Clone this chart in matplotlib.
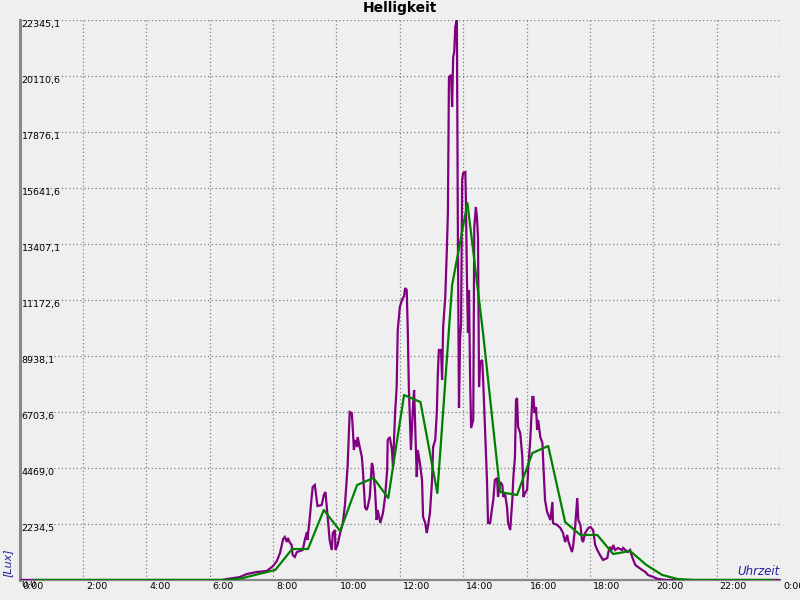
import matplotlib
matplotlib.use("Agg")
import matplotlib.pyplot as plt
import matplotlib.transforms as mtransforms

# Purple series: time in minutes since midnight, brightness in lux
purple_min = [0, 383, 393, 417, 430, 449, 468, 480, 487, 493, 499, 502, 506, 508, 511, 515, 517, 521, 525,
              531, 536, 540, 544, 545, 549, 553, 555, 559, 563, 564, 572, 576, 579, 583, 587, 591, 593, 597,
              598, 602, 606, 612, 616, 621, 625, 629, 631, 633, 635, 639, 640, 644, 648, 650, 654, 657, 659,
              663, 667, 669, 673, 676, 678, 683, 686, 688, 692, 696, 697, 701, 705, 707, 711, 714, 716, 720,
              724, 728, 730, 733, 735, 737, 741, 745, 747, 751, 752, 754, 758, 762, 764, 768, 771, 773, 777,
              781, 783, 787, 790, 792, 794, 798, 800, 802, 806, 809, 811, 813, 817, 819, 821, 823, 825, 828,
              830, 832, 834, 836, 838, 840, 844, 845, 847, 849, 851, 853, 855, 859, 861, 864, 866, 868, 870,
              872, 876, 878, 882, 885, 887, 891, 895, 897, 900, 904, 906, 910, 914, 916, 919, 923, 925, 929,
              933, 935, 938, 940, 942, 944, 948, 952, 954, 957, 961, 963, 967, 971, 973, 975, 978, 980, 982,
              986, 990, 992, 995, 999, 1005, 1009, 1010, 1018, 1024, 1029, 1033, 1037, 1039, 1046, 1048, 1052,
              1056, 1058, 1062, 1065, 1067, 1071, 1077, 1081, 1086, 1090, 1094, 1099, 1105, 1113, 1115, 1118,
              1122, 1124, 1128, 1133, 1141, 1143, 1147, 1152, 1156, 1160, 1166, 1171, 1179, 1185, 1190, 1200,
              1209, 1223, 1440]
purple_lux = [0, 0, 40, 120, 239, 319, 359, 559, 758, 1077, 1636, 1716, 1516, 1676, 1516, 1397, 998, 918, 1117,
              1157, 1197, 1596, 1915, 1596, 2394, 3312, 3711, 3791, 3112, 2953, 2993, 3392, 3511, 2594, 1596, 1197, 1875, 1995,
              1197, 1397, 1796, 2274, 2993, 4509, 6703, 6663, 5985, 5187, 5586, 5307, 5706, 5307, 4908, 4389, 2913, 2793, 2913,
              3312, 4668, 4509, 3591, 2394, 2793, 2274, 2514, 2673, 3312, 4389, 5586, 5706, 5187, 4509, 6663, 7701, 9975, 10893,
              11172, 11332, 11651, 11571, 9975, 7701, 5187, 6983, 7581, 4908, 4110, 5187, 4668, 3990, 2514, 2274, 1875, 2115, 2673,
              3990, 5307, 5586, 6663, 8259, 9177, 9177, 7980, 10095, 11292, 13167, 14643, 20070, 20150, 18873, 20868, 21067, 22065, 22344,
              13446, 6863, 9576, 10254, 15960, 16239, 16279, 15282, 12090, 9855, 11571, 8100, 6065, 6384, 14085, 14883, 14484, 13686, 7701,
              8698, 8778, 7860, 5586, 3990, 2274, 2274, 2913, 3192, 3990, 4070, 3312, 3910, 3791, 3312, 3471, 2913, 2274, 1995,
              3192, 4110, 4908, 7182, 7262, 6105, 5865, 4908, 3312, 3471, 3591, 4389, 5586, 7302, 7302, 6663, 6903, 5985, 6384,
              5706, 5466, 4509, 3192, 2713, 2394, 3112, 2274, 2195, 2075, 1875, 1516, 1796, 1556, 1117, 1317, 2115,
              3272, 2394, 2195, 1596, 1516, 1875, 2075, 2115, 1995, 1397, 1197, 998, 798, 878, 1117, 1317,
              1197, 1397, 1197, 1277, 1197, 1277, 1197, 1117, 1197, 918, 599, 519, 399, 319, 200, 120,
              40, 0, 0]

# Green series (half-hourly mean)
green_min = [29, 393, 423, 453, 484, 516, 546, 576, 607, 639, 670, 698, 728, 759, 791, 819, 848, 878, 910,
             942, 971, 1001, 1033, 1062, 1094, 1124, 1156, 1187, 1217, 1246, 1276, 1427]
green_lux = [0, 0, 80, 240, 400, 1237, 1237, 2793, 1955, 3791, 4070, 3272, 7382, 7102, 3471, 11771, 15043, 9776, 3511,
             3392, 5067, 5347, 2314, 1796, 1796, 1037, 1157, 599, 200, 40, 0, 0]

y_ticks = [0.0, 2234.5, 4469.0, 6703.6, 8938.1, 11172.6, 13407.1, 15641.6, 17876.1, 20110.6, 22345.1]
y_labels = ["0,0", "2234,5", "4469,0", "6703,6", "8938,1", "11172,6", "13407,1", "15641,6", "17876,1",
            "20110,6", "22345,1"]
x_ticks = list(range(0, 1441, 120))
x_labels = ["0:00", "2:00", "4:00", "6:00", "8:00", "10:00", "12:00", "14:00", "16:00", "18:00", "20:00",
            "22:00", "0:00"]

bg = "#efefef"
fig = plt.figure(figsize=(8, 6), dpi=100, facecolor=bg)
ax = fig.add_axes([19.7 / 800, 20 / 600, (780 - 19.7) / 800, 560 / 600], facecolor=bg)

ax.plot(purple_min, purple_lux, color="#800080", lw=1.6, zorder=3, solid_joinstyle="miter")
ax.plot(green_min, green_lux, color="#008000", lw=1.6, zorder=4)

ax.set_xlim(0, 1440)
ax.set_ylim(0, 22345.1)

ax.set_yticks(y_ticks)
ax.set_yticklabels(y_labels, ha="left", va="top", fontsize=6.8)
ax.set_xticks(x_ticks)
ax.set_xticklabels(x_labels, ha="left", fontsize=6.8)
ax.tick_params(axis="y", length=0, pad=-1.5)
ax.tick_params(axis="x", length=0, pad=1.5)
off = mtransforms.ScaledTranslation(3 / 100, 0, fig.dpi_scale_trans)
for lab in ax.get_xticklabels():
    lab.set_transform(lab.get_transform() + off)

ax.grid(True, color="#808080", linestyle=(0, (1, 2)), linewidth=0.9)
ax.set_axisbelow(True)

for s in ["top", "right"]:
    ax.spines[s].set_visible(False)
ax.spines["left"].set_color("#888888")
ax.spines["left"].set_linewidth(2.2)
ax.spines["bottom"].set_color("#888888")
ax.spines["bottom"].set_linewidth(1.6)

fig.text(0.5, 1 - 8 / 600, "Helligkeit", ha="center", va="center", fontsize=10, fontweight="bold",
         color="black")
fig.text(8 / 800, 1 - 563 / 600, "[Lux]", rotation=90, ha="center", va="center", fontsize=8,
         style="italic", color="#2020a0")
ax.text(1.0, 0.003, "Uhrzeit", transform=ax.transAxes, ha="right", va="bottom", fontsize=8.5,
        style="italic", color="#2020a0")

fig.savefig("out.png", dpi=100, facecolor=bg)
